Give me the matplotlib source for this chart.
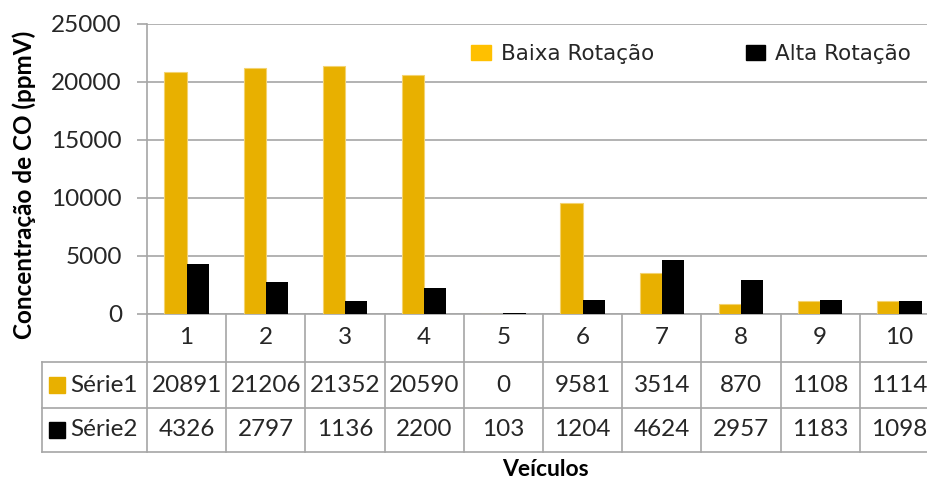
import matplotlib.pyplot as plt
import numpy as np
from matplotlib.patches import Patch

plt.rcParams['font.family'] = ['Lato', 'DejaVu Sans']

veiculos = ['1', '2', '3', '4', '5', '6', '7', '8', '9', '10']
baixa = [20891, 21206, 21352, 20590, 0, 9581, 3514, 870, 1108, 1114]
alta = [4326, 2797, 1136, 2200, 103, 1204, 4624, 2957, 1183, 1098]
series = ['Série1', 'Série2']
legenda = ['Baixa Rotação', 'Alta Rotação']

amarelo = '#E8B000'
preto = '#000000'
cinza = '#A6A6A6'
texto = '#262626'
fs = 17.5

W, H = 928, 482
fig = plt.figure(figsize=(W / 100, H / 100), dpi=100)
ax = fig.add_axes([147 / W, 1 - 314 / H, 792 / W, 290 / H])

x = np.arange(1, len(veiculos) + 1)
w = 0.28
ax.bar(x - w / 2, baixa, w, color=amarelo, edgecolor='#F3D370', linewidth=0.8, zorder=3)
ax.bar(x + w / 2, alta, w, color=preto, zorder=3)

ax.set_xlim(0.5, len(veiculos) + 0.5)
ax.set_ylim(0, 25000)
ax.set_yticks(np.arange(0, 25001, 5000))
ax.yaxis.grid(True, color=cinza, linewidth=1.2, zorder=0)
ax.set_xticks([])
ax.tick_params(axis='y', direction='out', length=7, width=1.2, color=cinza,
               labelsize=fs, labelcolor=texto, pad=11)
for s in ['top', 'right']:
    ax.spines[s].set_visible(False)
for s in ['left', 'bottom']:
    ax.spines[s].set_color(cinza)
    ax.spines[s].set_linewidth(1.2)

ax.set_ylabel('Concentração de CO (ppmV)', fontsize=17.5, fontweight='bold',
              color='black')
ax.yaxis.set_label_coords(-111 / 792, 0.5 - 16 / 290)

# data table under the axis
tr = ax.get_xaxis_transform()
y_head = -48 / 290
y_r1 = -94 / 290
y_r2 = -138 / 290
x_left = 0.5 - 105 / 79.2
kw = dict(color=cinza, linewidth=1.2, clip_on=False, transform=tr)
for b in np.arange(0.5, len(veiculos) + 1, 1.0):
    ax.plot([b, b], [0, y_r2], **kw)
for yy in [y_head, y_r1, y_r2]:
    ax.plot([x_left, 10.5], [yy, yy], **kw)
ax.plot([x_left] * 2, [y_head, y_r2], **kw)

for xi, lab, v1, v2 in zip(x, veiculos, baixa, alta):
    ax.text(xi, y_head / 2, lab, ha='center', va='center', fontsize=fs,
            color=texto, transform=tr)
    ax.text(xi, (y_head + y_r1) / 2, str(v1), ha='center', va='center',
            fontsize=fs, color=texto, transform=tr)
    ax.text(xi, (y_r1 + y_r2) / 2, str(v2), ha='center', va='center',
            fontsize=fs, color=texto, transform=tr)

for nome, cor, yc in [(series[0], amarelo, (y_head + y_r1) / 2),
                      (series[1], preto, (y_r1 + y_r2) / 2)]:
    ax.plot([0.5 - 90 / 79.2], [yc], marker='s', markersize=11, color=cor,
            clip_on=False, transform=tr)
    ax.text(0.5 - 77 / 79.2, yc, nome, ha='left', va='center', fontsize=fs,
            color=texto, transform=tr)

fig.text(545 / W, 1 - 470 / H, 'Veículos', ha='center', va='center',
         fontsize=16.5, fontweight='bold', color='black')

handles = [Patch(color='#FFC000'), Patch(color=preto)]
fig.legend(handles, legenda, loc='center left', bbox_to_anchor=(452 / W, 1 - 54 / H),
           ncol=2, frameon=False, handlelength=0.92, handleheight=0.64,
           handletextpad=0.45, columnspacing=4.25,
           prop={'family': 'DejaVu Sans', 'size': 15.5}, labelcolor=texto)

fig.savefig('out.png', dpi=100)
